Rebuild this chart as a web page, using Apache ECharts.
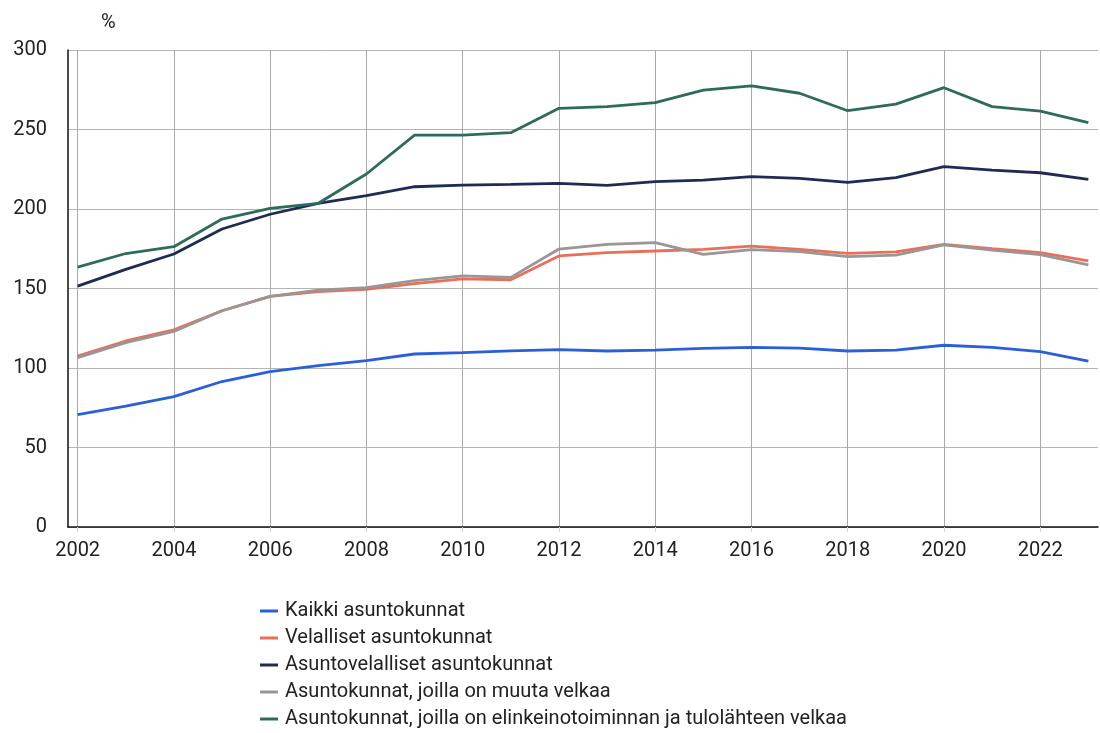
<!DOCTYPE html>
<html>
<head>
<meta charset="utf-8">
<script src="https://cdn.jsdelivr.net/npm/echarts@6/dist/echarts.min.js"></script>
<style>
  html, body { margin: 0; padding: 0; background: #fff; }
  #chart { width: 1100px; height: 733px; }
</style>
</head>
<body>
<div id="chart"></div>
<script>
// vuodet ja sarjat
var years = [2002, 2003, 2004, 2005, 2006, 2007, 2008, 2009, 2010, 2011, 2012,
             2013, 2014, 2015, 2016, 2017, 2018, 2019, 2020, 2021, 2022, 2023];
var xLabels = [2002, 2004, 2006, 2008, 2010, 2012, 2014, 2016, 2018, 2020, 2022];

var kaikki = [70.6, 76, 82, 91.5, 97.7, 101.5, 104.6, 108.8, 109.7, 110.8, 111.5,
              110.7, 111.3, 112.3, 113, 112.5, 110.7, 111.3, 114.3, 113, 110.3, 104.4];
var velalliset = [107.5, 117, 124, 136, 145, 148, 149.5, 153, 156, 155.5, 170.5,
                  172.5, 173.6, 174.6, 176.7, 174.6, 172.1, 173, 177.8, 175, 172.5, 167.3];
var asuntovelalliset = [151.5, 162, 171.7, 187.4, 196.7, 203.6, 208.4, 214, 215, 215.5, 216.1,
                        214.9, 217.2, 218.2, 220.3, 219.3, 216.8, 219.7, 226.6, 224.5, 222.8, 218.7];
var muutaVelkaa = [106.5, 116, 123, 136, 145, 149, 150.5, 155, 158, 157, 174.8,
                   177.8, 178.8, 171.5, 174.4, 173.2, 170, 171, 177.4, 174.2, 171.3, 164.8];
var elinkeino = [163.5, 172, 176.3, 193.7, 200.4, 203.6, 222, 246.5, 246.5, 248, 263.3,
                 264.4, 266.9, 274.8, 277.4, 272.8, 261.8, 266, 276.3, 264.4, 261.6, 254.3];

var seriesNames = ['Kaikki asuntokunnat', 'Velalliset asuntokunnat', 'Asuntovelalliset asuntokunnat',
                   'Asuntokunnat, joilla on muuta velkaa',
                   'Asuntokunnat, joilla on elinkeinotoiminnan ja tulolähteen velkaa'];
var seriesData = [kaikki, velalliset, asuntovelalliset, muutaVelkaa, elinkeino];
var colors = ['#2b5fd9', '#e8705a', '#1f2a55', '#9b9595', '#2e6b5c'];

var font = "'Roboto', sans-serif";

function toPairs(values) {
	var out = [];
	for (var i = 0; i < years.length; i++) {
		out.push([years[i], values[i]]);
	}
	return out;
}

var series = [];
for (var i = 0; i < seriesNames.length; i++) {
	series.push({
		name: seriesNames[i],
		type: 'line',
		data: toPairs(seriesData[i]),
		showSymbol: false,
		symbol: 'none',
		lineStyle: { color: colors[i], width: 2.8 },
		itemStyle: { color: colors[i] }
	});
}

var myChart = echarts.init(document.getElementById('chart'));
var option = {
	animation: false,
	color: colors,
	title: {
		text: '%',
		left: 96,
		top: 8,
		textStyle: { fontFamily: font, fontSize: 20, fontWeight: 'normal', color: '#222' }
	},
	grid: { left: 68, right: 2, top: 50, bottom: 206, containLabel: false },
	xAxis: {
		type: 'value',
		min: 2001.8,
		max: 2023.2,
		axisLine: { show: true, onZero: false, lineStyle: { color: '#111', width: 1.5 } },
		axisTick: { show: true, customValues: xLabels, length: 5, lineStyle: { color: '#c8d8ea' } },
		axisLabel: {
			customValues: xLabels,
			fontFamily: font,
			fontSize: 20,
			color: '#222',
			margin: 14,
			formatter: function(v) { return String(v); }
		},
		splitLine: { show: true, lineStyle: { color: '#a8a8a8', width: 1 } }
	},
	yAxis: {
		type: 'value',
		min: 0,
		max: 300,
		interval: 50,
		axisLine: { show: true, lineStyle: { color: '#111', width: 1.5 } },
		axisTick: { show: false },
		axisLabel: { fontFamily: font, fontSize: 20, color: '#222', margin: 21 },
		splitLine: { show: true, lineStyle: { color: '#b4b4b4', width: 1 } }
	},
	legend: {
		orient: 'vertical',
		left: 255,
		top: 596,
		height: 140,
		itemGap: 7,
		itemWidth: 18,
		itemHeight: 3,
		icon: 'rect',
		data: seriesNames,
		textStyle: { fontFamily: font, fontSize: 20, color: '#222', lineHeight: 20, padding: [0, 0, 0, 2] }
	},
	series: series
};
myChart.setOption(option);
</script>
</body>
</html>
